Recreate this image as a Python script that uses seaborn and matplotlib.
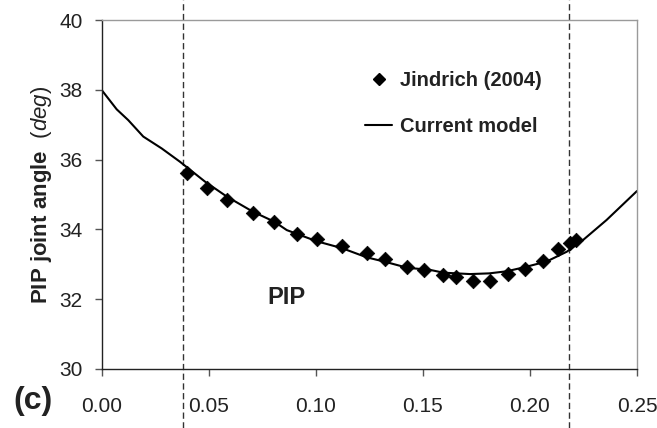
import numpy as np
import pandas as pd
import matplotlib
matplotlib.use("Agg")
import matplotlib.pyplot as plt
import matplotlib.transforms as mtransforms
from matplotlib.lines import Line2D
import seaborn as sns

# Measured PIP joint angle (Jindrich 2004)
exp_time = [0.0401, 0.0491, 0.0585, 0.0706, 0.0807, 0.0914, 0.1005, 0.1124,
            0.1238, 0.1325, 0.1428, 0.1507, 0.1596, 0.1654, 0.1736, 0.1814,
            0.1899, 0.1977, 0.2060, 0.2133, 0.2187, 0.2214]
exp_angle = [35.62, 35.18, 34.84, 34.46, 34.20, 33.87, 33.72, 33.53,
             33.33, 33.14, 32.92, 32.84, 32.69, 32.64, 32.53, 32.53,
             32.72, 32.87, 33.10, 33.44, 33.60, 33.70]

# Current model prediction
model_time = [0.0, 0.0071, 0.0125, 0.0195, 0.0281, 0.0366, 0.0483, 0.0585,
              0.0706, 0.0807, 0.0865, 0.1005, 0.1124, 0.1238, 0.1325, 0.1428,
              0.1534, 0.1596, 0.1721, 0.1810, 0.1892, 0.1977, 0.2078, 0.2172,
              0.2249, 0.2358, 0.2500]
model_angle = [38.00, 37.44, 37.13, 36.66, 36.32, 35.94, 35.37, 34.94,
               34.51, 34.22, 33.98, 33.66, 33.46, 33.20, 33.07, 32.90,
               32.84, 32.76, 32.72, 32.74, 32.80, 32.92, 33.08, 33.36,
               33.70, 34.27, 35.10]

# Phase boundaries
phase_bounds = [0.038, 0.2183]

x_ticks = [0.00, 0.05, 0.10, 0.15, 0.20, 0.25]
y_ticks = [30, 32, 34, 36, 38, 40]

sns.set_theme(style="white")
plt.rcParams["font.family"] = ["Liberation Sans", "DejaVu Sans"]
plt.rcParams["mathtext.fontset"] = "custom"
plt.rcParams["mathtext.rm"] = "Liberation Sans"
plt.rcParams["mathtext.bf"] = "Liberation Sans:bold"
plt.rcParams["mathtext.it"] = "Liberation Sans:italic"

W, H = 657, 428
fig = plt.figure(figsize=(W / 100, H / 100), dpi=100)
ax = fig.add_axes([101.5 / W, 1 - 369 / H, (637 - 101.5) / W, (369 - 20) / H])

exp_df = pd.DataFrame({"t": exp_time, "angle": exp_angle})
model_df = pd.DataFrame({"t": model_time, "angle": model_angle})

sns.lineplot(data=model_df, x="t", y="angle", ax=ax, color="black",
             linewidth=1.5, sort=False, zorder=2)
sns.scatterplot(data=exp_df, x="t", y="angle", ax=ax, marker="D", s=55,
                color="black", edgecolor="black", linewidth=0.5, zorder=3)

# Dashed phase boundaries running the full figure height
trans = mtransforms.blended_transform_factory(ax.transData, fig.transFigure)
for xb in phase_bounds:
    ax.plot([xb, xb], [0, 1], transform=trans, color="#333333",
            linestyle=(0, (4.5, 2.5)), linewidth=1.0, clip_on=False, zorder=1)

ax.set_xlim(0, 0.25)
ax.set_ylim(30, 40)
ax.set_xticks(x_ticks)
ax.set_xticklabels([f"{v:.2f}" for v in x_ticks])
ax.set_yticks(y_ticks)
ax.set_yticklabels([str(v) for v in y_ticks])
ax.tick_params(axis="both", which="major", direction="out", length=5,
               width=1, color="#555555", labelsize=15, labelcolor="#222222",
               bottom=True, left=True)
ax.tick_params(axis="x", pad=15)
ax.tick_params(axis="y", pad=8.5)
ax.set_xlabel("")
ax.set_ylabel(r"$\mathbf{PIP\ joint\ angle}$  $\mathit{(deg)}$",
              fontsize=16, color="#222222")
ax.yaxis.set_label_coords(42 / W, 1 - 194.5 / H, transform=fig.transFigure)
ax.yaxis.label.set_va("center")

for side in ["left", "bottom"]:
    ax.spines[side].set_color("#222222")
    ax.spines[side].set_linewidth(1.0)
for side in ["top", "right"]:
    ax.spines[side].set_color("#9a9a9a")
    ax.spines[side].set_linewidth(1.0)

ax.text(286 / W, 1 - 297 / H, "PIP", fontsize=17, fontweight="bold",
        ha="center", va="center", color="#222222", transform=fig.transFigure)

fig.text(33 / W, 1 - 401 / H, "(c)", fontsize=23, fontweight="bold",
         ha="center", va="center", color="#222222")

handles = [
    Line2D([], [], marker="D", linestyle="none", color="black", markersize=6),
    Line2D([], [], color="black", linewidth=1.5),
]
leg = ax.legend(handles, ["Jindrich (2004)", "Current model"],
                loc="upper left", bbox_to_anchor=(365 / W, 1 - 71 / H),
                bbox_transform=fig.transFigure, frameon=False,
                prop={"weight": "bold", "size": 14.5}, labelspacing=1.35,
                handlelength=1.35, handletextpad=0.4, borderpad=0,
                borderaxespad=0)
for t in leg.get_texts():
    t.set_color("#222222")

fig.savefig("out.png", dpi=100)
